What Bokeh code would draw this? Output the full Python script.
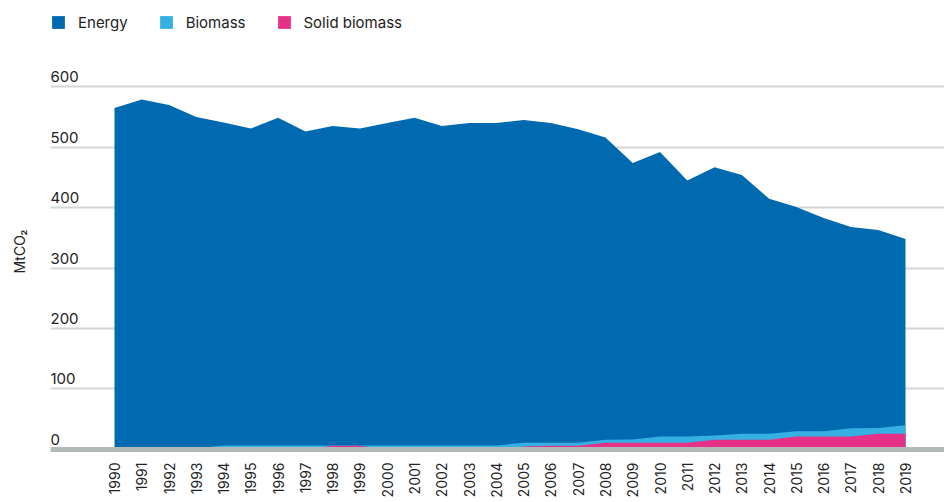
import math
from bokeh.plotting import figure
from bokeh.models import (Range1d, FixedTicker, Span, Legend, LegendItem, Title,
                          ColumnDataSource)
from bokeh.core.properties import value
from bokeh.embed import file_html
from bokeh.resources import INLINE

years = list(range(1990, 2020))
energy = [565, 579, 570, 550, 541, 531, 549, 526, 535, 531,
          540, 549, 535, 540, 540, 545, 540, 530, 516, 474,
          492, 445, 467, 454, 415, 401, 383, 368, 363, 348]
biomass = [1, 1, 1, 2, 6.5, 6.5, 6.5, 6.5, 6.5, 6.5,
           6.5, 6.5, 6.5, 6.5, 6.5, 11, 11, 11, 16, 16.5,
           21.5, 21.5, 23, 26, 26, 30, 30, 35, 35.5, 40]
solid_biomass = [0, 0, 0, 0, 0, 0, 0, 0, 6, 6,
                 0, 0, 0, 0, 0, 5, 6, 6, 11, 11,
                 11, 11, 16, 16, 16, 21.5, 21.5, 21.5, 26, 26]
y_ticks = [0, 100, 200, 300, 400, 500, 600]
y_tick_labels = ["0", "100", "200", "300", "400", "500", "600"]
series_names = ["Energy", "Biomass", "Solid biomass"]
colors = ["#006AB0", "#35B0E3", "#E63188"]

FONT = "Inter"
TEXT_COLOR = "#222222"

src = ColumnDataSource(dict(year=years, energy=energy, biomass=biomass,
                            solid=solid_biomass))

x_start, x_end = 1987.654, 2020.43
p = figure(width=944, height=502, output_backend="svg", toolbar_location=None,
           x_range=Range1d(x_start, x_end), y_range=Range1d(-8.4, 723),
           min_border_left=50, min_border_right=0, min_border_top=12,
           min_border_bottom=48)
p.outline_line_color = None
p.background_fill_color = "white"
p.border_fill_color = "white"

p.yaxis.visible = False
p.xgrid.visible = False
p.ygrid.ticker = FixedTicker(ticks=y_ticks[1:])
p.ygrid.grid_line_color = "#D2D6D6"
p.ygrid.grid_line_width = 2

xa = p.xaxis[0]
xa.ticker = FixedTicker(ticks=years)
xa.major_label_orientation = math.pi / 2
xa.axis_line_color = None
xa.major_tick_line_color = None
xa.minor_tick_line_color = None
xa.major_tick_out = 0
xa.major_tick_in = 0
xa.major_label_standoff = 8
xa.major_label_text_font = FONT
xa.major_label_text_font_size = "14px"
xa.major_label_text_color = TEXT_COLOR

r1 = p.varea(x="year", y1=0, y2="energy", source=src, fill_color=colors[0])
r2 = p.varea(x="year", y1=0, y2="biomass", source=src, fill_color=colors[1])
r3 = p.varea(x="year", y1=0, y2="solid", source=src, fill_color=colors[2])

p.add_layout(Span(location=0, dimension="width", line_color="#B3B9B8",
                  line_width=5, level="overlay"))

p.text(x=[x_start] * len(y_ticks), y=y_ticks, text=y_tick_labels,
       text_font=value(FONT), text_font_size="15px", text_color=TEXT_COLOR,
       text_align="left", text_baseline="alphabetic", y_offset=-10)

# spacer panel next to the frame, then the unit label further left
p.add_layout(Title(text=" ", standoff=9, text_font_size="2px"), "left")
p.add_layout(Title(text="MtCO₂", align="left", offset=181, standoff=17,
                   vertical_align="middle", text_font=FONT,
                   text_font_size="14px", text_font_style="normal",
                   text_color=TEXT_COLOR), "left")

legend = Legend(items=[LegendItem(label=series_names[0], renderers=[r1]),
                       LegendItem(label=series_names[1], renderers=[r2]),
                       LegendItem(label=series_names[2], renderers=[r3])],
                orientation="horizontal", location="top_left",
                glyph_width=16, glyph_height=16, label_standoff=12,
                spacing=30, padding=0, margin=0, border_line_color=None,
                background_fill_alpha=0, label_text_font=FONT,
                label_text_font_size="15px", label_text_color=TEXT_COLOR,
                label_height=20)
p.add_layout(legend)

open("out.html", "w").write(file_html(p, INLINE))
